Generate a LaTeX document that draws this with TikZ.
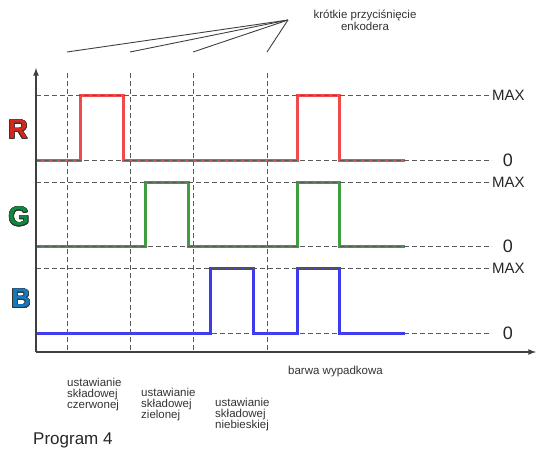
\documentclass[tikz,border=0pt]{standalone}
\usepackage{fontspec}
\setmainfont{Liberation Sans}
\usepackage{contour}
\usetikzlibrary{arrows}
\definecolor{sigred}{HTML}{F04A4A}
\definecolor{siggreen}{HTML}{3E9E3E}
\definecolor{sigblue}{HTML}{3C3CEC}
\definecolor{letR}{HTML}{D8261C}
\definecolor{letG}{HTML}{0E8A3C}
\definecolor{letB}{HTML}{1878BE}
\contourlength{0.7pt}
\tikzset{my_axis/.style={->,>=latex,line width=1.6pt,draw=black!75}}
\tikzset{my_grid/.style={dashed,dash pattern=on 5pt off 3pt,line width=1pt,draw=black!65}}
\tikzset{my_signal/.style={line width=3pt,line join=miter}}
\tikzset{my_letter/.style={font=\fontsize{27}{27}\selectfont\bfseries}}
\tikzset{my_small/.style={font=\fontsize{11.5}{10.5}\selectfont,text=black!80,align=left,inner sep=0pt}}
\tikzset{my_level/.style={text=black!85,inner sep=0pt}}

\begin{document}
\begin{tikzpicture}[x={(1pt,0pt)},y={(0pt,-1pt)}]
    \useasboundingbox (0,0) rectangle (536,451);
    %\draw[help lines] (0,0) grid[step=50pt] (536,451);

    % signals
    \draw[my_signal,sigred] (36,160) -- (80,160) -- (80,95) -- (123,95) -- (123,160)
        -- (297,160) -- (297,95) -- (339,95) -- (339,160) -- (405,160);
    \draw[my_signal,siggreen] (36,246) -- (145,246) -- (145,182) -- (188,182) -- (188,246)
        -- (297,246) -- (297,182) -- (339,182) -- (339,246) -- (405,246);
    \draw[my_signal,sigblue] (36,333) -- (210,333) -- (210,268) -- (253,268) -- (253,333)
        -- (297,333) -- (297,268) -- (339,268) -- (339,333) -- (405,333);

    % levels
    \foreach \y in {95,182,268}
        \draw[my_grid] (36,\y) -- (492,\y);
    \foreach \y in {160,246,333}
        \draw[my_grid] (36,\y) -- (492,\y);
    \foreach \x in {67,130,193,267}
        \draw[my_grid] (\x,73) -- (\x,352);

    \node[my_level, anchor=west, font=\fontsize{15}{15}\selectfont] (maxR) at (492,95) {MAX};
    \node[my_level, anchor=west, font=\fontsize{15}{15}\selectfont] (maxG) at (492,182) {MAX};
    \node[my_level, anchor=west, font=\fontsize{15}{15}\selectfont] (maxB) at (492,268) {MAX};
    \node[my_level, font=\fontsize{18}{18}\selectfont] (zeroR) at (508,160) {0};
    \node[my_level, font=\fontsize{18}{18}\selectfont] (zeroG) at (508,246) {0};
    \node[my_level, font=\fontsize{18}{18}\selectfont] (zeroB) at (508,333) {0};

    % axes
    \coordinate (origin) at (36,352);
    \coordinate (ytip) at (36,68);
    \coordinate (xtip) at (536,352);
    \draw[my_axis] (origin) -- (ytip);
    \draw[my_axis] (origin) -- (xtip);

    \node[my_letter] (R) at (18,130) {\contour{black!80}{\textcolor{letR}{R}}};
    \node[my_letter] (G) at (19,217) {\contour{black!80}{\textcolor{letG}{G}}};
    \node[my_letter] (B) at (21,299) {\contour{black!80}{\textcolor{letB}{B}}};

    % encoder presses
    \node[my_small, align=center] (press) at (365,20) {krótkie przyciśnięcie\\enkodera};
    \coordinate (apex) at (288,20);
    \coordinate (p1) at (67,52);
    \coordinate (p2) at (130,52);
    \coordinate (p3) at (193,52);
    \coordinate (p4) at (267,52);
    \foreach \p in {p1,p2,p3,p4}
        \draw[line width=0.9pt,black!75] (apex) -- (\p);

    % descriptions
    \node[my_small, anchor=north west] (setR) at (67,378) {ustawianie\\składowej\\czerwonej};
    \node[my_small, anchor=north west] (setG) at (141,388) {ustawianie\\składowej\\zielonej};
    \node[my_small, anchor=north west] (setB) at (215,398) {ustawianie\\składowej\\niebieskiej};
    \node[my_small, anchor=west] (mix) at (288,372) {barwa wypadkowa};
    \node[anchor=west, inner sep=0pt, text=black!85, font=\fontsize{17}{17}\selectfont] (prog) at (33,440) {Program 4};
\end{tikzpicture}
\end{document}
